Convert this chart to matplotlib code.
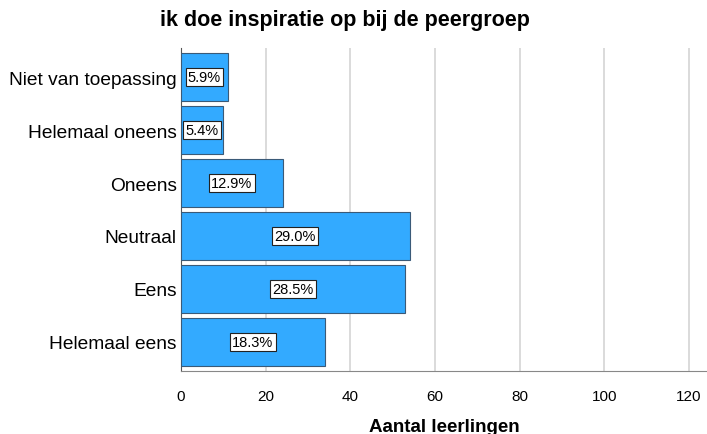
import numpy as np
import matplotlib.pyplot as plt

plt.rcParams['font.family'] = ['Liberation Sans', 'DejaVu Sans']

categories = ['Niet van toepassing', 'Helemaal oneens', 'Oneens', 'Neutraal', 'Eens', 'Helemaal eens']
counts = [11, 10, 24, 54, 53, 34]
percents = ['5.9%', '5.4%', '12.9%', '29.0%', '28.5%', '18.3%']

fig = plt.figure(figsize=(7.07, 4.35), dpi=100)
ax = fig.add_axes([0.256, 0.145, 0.744, 0.742])

y = np.arange(len(categories))
ax.barh(y, counts, height=0.9, color='#33aaff', edgecolor='#3a5a78', linewidth=0.8, zorder=3)
for yi, c, p in zip(y, counts, percents):
    ax.text(c / 2, yi, p, ha='center', va='center', fontsize=10.5, zorder=4,
            bbox=dict(boxstyle='square,pad=0.15', facecolor='white', edgecolor='#222222', linewidth=0.8))

ax.set_yticks(y)
ax.set_yticklabels(categories, fontsize=13.8)
ax.set_ylim(5.55, -0.55)
ax.set_xlim(0, 124.3)
ax.set_xticks([0, 20, 40, 60, 80, 100, 120])
ax.tick_params(axis='x', labelsize=11, length=0, pad=13)
ax.tick_params(axis='y', length=0, pad=3)
ax.grid(axis='x', color='#d4d4d4', linewidth=1.2, zorder=0)
for s in ['top', 'right']:
    ax.spines[s].set_visible(False)
ax.spines['left'].set_color('#555555')
ax.spines['bottom'].set_color('#888888')
ax.set_xlabel('Aantal leerlingen', fontsize=13.5, fontweight='bold', labelpad=10.5)

fig.text(0.488, 0.952, 'ik doe inspiratie op bij de peergroep', ha='center', va='center',
         fontsize=15.5, fontweight='bold')

plt.savefig('out.png', dpi=100)
